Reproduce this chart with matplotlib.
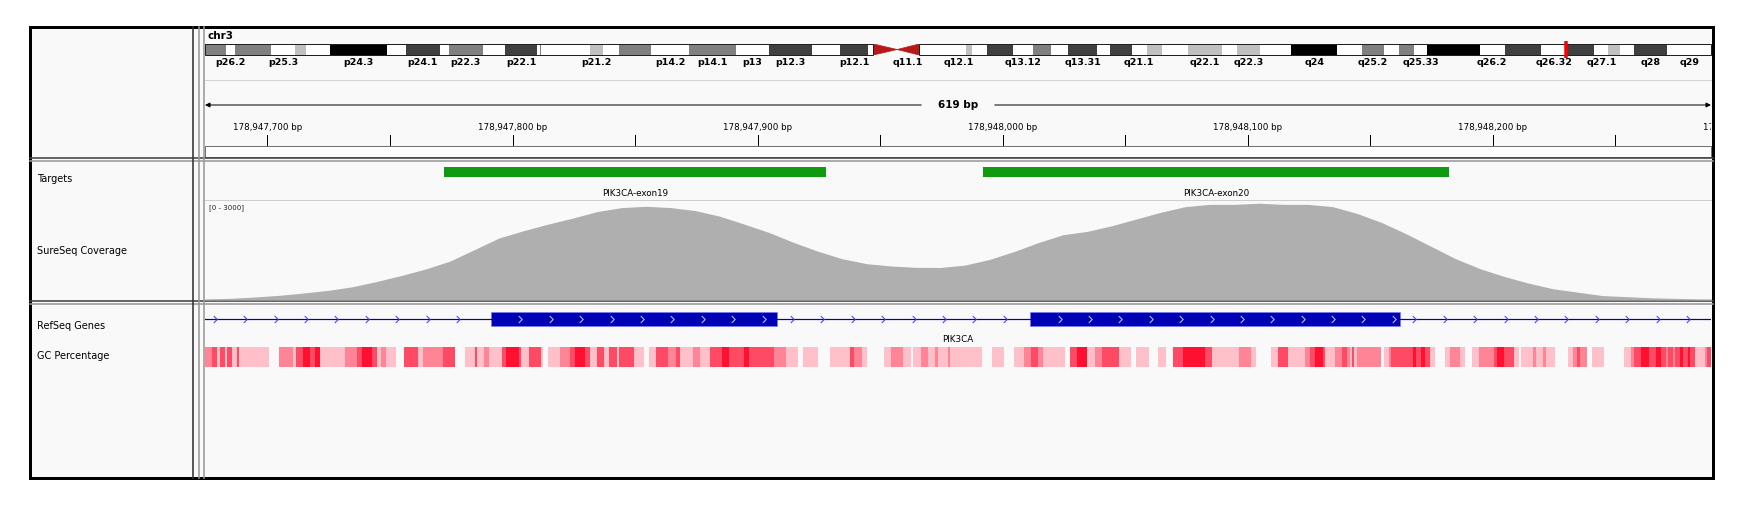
import numpy as np
import matplotlib
matplotlib.use("Agg")
import matplotlib.pyplot as plt
from matplotlib.patches import Rectangle, Polygon
from matplotlib.path import Path

W, H = 1747, 514

# chr3 cytobands (hg19), start in Mb
band_names = ["p26.3", "p26.2", "p26.1", "p25.3", "p25.2", "p25.1", "p24.3", "p24.2",
              "p24.1", "p23", "p22.3", "p22.2", "p22.1", "p21.33", "p21.32", "p21.31",
              "p21.2", "p21.1", "p14.3", "p14.2", "p14.1", "p13", "p12.3", "p12.2",
              "p12.1", "p11.2", "p11.1", "q11.1", "q11.2", "q12.1", "q12.2", "q12.3",
              "q13.11", "q13.12", "q13.13", "q13.2", "q13.31", "q13.32", "q13.33", "q21.1",
              "q21.2", "q21.3", "q22.1", "q22.2", "q22.3", "q23", "q24", "q25.1",
              "q25.2", "q25.31", "q25.32", "q25.33", "q26.1", "q26.2", "q26.31", "q26.32",
              "q26.33", "q27.1", "q27.2", "q27.3", "q28", "q29"]
band_starts = [0.0, 2.8, 4.0, 8.7, 11.8, 13.3, 16.4, 23.9,
               26.4, 30.9, 32.1, 36.5, 39.4, 43.7, 44.1, 44.2,
               50.6, 52.3, 54.4, 58.6, 63.7, 69.8, 74.2, 79.8,
               83.5, 87.2, 87.9, 91.0, 93.9, 98.3, 100.0, 100.9,
               102.8, 106.2, 108.9, 111.3, 113.5, 117.3, 119.0, 121.9,
               123.8, 125.8, 129.2, 133.7, 135.7, 138.7, 142.8, 148.9,
               152.1, 155.0, 157.0, 159.0, 160.7, 167.6, 170.9, 175.7,
               179.0, 182.7, 184.5, 186.0, 187.9, 192.3]
band_stains = ["gpos50", "gneg", "gpos50", "gneg", "gpos25", "gneg", "gpos100", "gneg",
               "gpos75", "gneg", "gpos50", "gneg", "gpos75", "gneg", "gpos50", "gneg",
               "gpos25", "gneg", "gpos50", "gneg", "gpos50", "gneg", "gpos75", "gneg",
               "gpos75", "gneg", "acen", "acen", "gvar", "gneg", "gpos25", "gneg",
               "gpos75", "gneg", "gpos50", "gneg", "gpos75", "gneg", "gpos75", "gneg",
               "gpos25", "gneg", "gpos25", "gneg", "gpos25", "gneg", "gpos100", "gneg",
               "gpos50", "gneg", "gpos50", "gneg", "gpos100", "gneg", "gpos75", "gneg",
               "gpos75", "gneg", "gpos25", "gneg", "gpos75", "gneg"]
chr_len = 198.022430
shown_labels = ["p26.2", "p25.3", "p24.3", "p24.1", "p22.3", "p22.1", "p21.2", "p14.2",
                "p14.1", "p13", "p12.3", "p12.1", "q11.1", "q12.1", "q13.12", "q13.31",
                "q21.1", "q22.1", "q22.3", "q24", "q25.2", "q25.33", "q26.2", "q26.32",
                "q27.1", "q28", "q29"]

view_start = 178947674.5
view_end = 178948289.0
span_label = "619 bp"

# SureSeq targets
target_starts = [178947772, 178947992]
target_ends = [178947928, 178948182]
target_names = ["PIK3CA-exon19", "PIK3CA-exon20"]

# coverage, every 10 bp from view start
cov_step = 10
coverage = [34, 50, 90, 140, 210, 290, 400, 560, 740, 940,
            1180, 1530, 1880, 2100, 2300, 2480, 2680, 2800, 2840, 2800,
            2710, 2540, 2300, 2050, 1750, 1480, 1250, 1100, 1030, 990,
            985, 1057, 1227, 1466, 1739, 1977, 2080, 2250, 2455, 2659,
            2830, 2898, 2898, 2932, 2898, 2898, 2830, 2625, 2352, 2011,
            1636, 1261, 955, 716, 511, 341, 239, 136, 102, 68,
            50, 34, 30]
cov_max = 3000

# RefSeq PIK3CA exons in view
exon_starts = [178947791, 178948011]
exon_ends = [178947908, 178948162]
gene_name = "PIK3CA"

# GC percentage: run start (bp from view start) and level 0..4
gc_offsets = [0, 3, 5, 6, 8, 9, 11, 13, 14, 26, 30, 36, 37, 40, 43, 45, 47, 57, 62, 64,
              68, 70, 72, 74, 78, 81, 87, 89, 97, 102, 106, 110, 111, 114, 116, 121, 123, 128,
              129, 132, 137, 138, 140, 145, 149, 151, 155, 157, 160, 163, 165, 168, 169, 175,
              179, 181, 184, 189, 192, 194, 199, 202, 206, 211, 214, 220, 222, 232, 237, 242,
              244, 250, 255, 263, 265, 268, 270, 277, 280, 285, 288, 289, 292, 295, 298, 299,
              303, 304, 317, 321, 326, 330, 334, 337, 340, 342, 351, 353, 356, 360, 363, 366,
              373, 378, 380, 385, 389, 392, 395, 399, 408, 411, 422, 427, 429, 435, 438, 442,
              449, 451, 453, 456, 457, 461, 464, 466, 467, 468, 469, 470, 480, 481, 483, 484,
              493, 494, 496, 498, 500, 502, 506, 508, 512, 514, 517, 520, 526, 527, 530, 534,
              536, 537, 542, 543, 546, 547, 551, 556, 558, 560, 561, 564, 566, 571, 579, 582,
              583, 586, 589, 592, 594, 596, 597, 599, 600, 602, 603, 605, 606, 608, 612, 613]
gc_levels = [2, 3, 1, 3, 1, 3, 1, 3, 1, 0, 2, 1, 3, 4, 3, 4, 1, 2, 3, 4,
             3, 1, 2, 1, 0, 3, 1, 2, 3, 0, 1, 3, 1, 2, 1, 3, 4, 3,
             1, 3, 1, 0, 1, 2, 3, 4, 3, 1, 3, 1, 3, 1, 3, 1,
             0, 1, 3, 2, 3, 1, 2, 1, 3, 4, 3, 4, 3, 2, 1, 0,
             1, 0, 1, 3, 2, 1, 0, 1, 2, 1, 0, 1, 2, 1, 2, 1,
             2, 1, 0, 1, 0, 1, 2, 3, 2, 1, 0, 3, 4, 1, 2, 3,
             1, 0, 1, 0, 1, 0, 3, 4, 3, 1, 2, 1, 0, 1, 3, 1,
             2, 3, 4, 3, 1, 2, 3, 2, 1, 3, 1, 2, 0, 1, 2, 3,
             4, 3, 4, 3, 1, 0, 1, 2, 1, 0, 1, 2, 3, 4, 3, 1,
             0, 1, 2, 1, 2, 1, 0, 1, 2, 3, 2, 0, 1, 0, 1, 2,
             3, 4, 3, 4, 3, 2, 3, 2, 3, 4, 3, 4, 3, 1, 2, 3]
gc_colors = ["#ffffff", "#ffc0ca", "#ff8596", "#ff4a66", "#ff1030"]

stain_colors = {"gneg": "#ffffff", "gvar": "#ffffff", "gpos25": "#c0c0c0",
                "gpos50": "#808080", "gpos75": "#404040", "gpos100": "#000000"}

track_names = ["Targets", "SureSeq Coverage", "RefSeq Genes", "GC Percentage"]
track_name_y = [179, 251, 326, 356]

PX = 0.72  # points per pixel at dpi 100


def add_ax(fig, x0, y0, x1, y1):
    ax = fig.add_axes([x0 / W, 1 - y1 / H, (x1 - x0) / W, (y1 - y0) / H])
    ax.set_axis_off()
    ax.patch.set_alpha(0)
    return ax


def main():
    fig = plt.figure(figsize=(W / 100, H / 100), dpi=100, facecolor="white")

    # frame and panel layout in pixel units
    bg = fig.add_axes([0, 0, 1, 1])
    bg.set_xlim(0, W)
    bg.set_ylim(H, 0)
    bg.set_axis_off()
    bg.add_patch(Rectangle((30, 27), 1683, 451, facecolor="#f9f9f9", edgecolor="none"))
    bg.add_patch(Rectangle((205, 146), 1506, 11, facecolor="#fdfdfd", edgecolor="#707070", lw=PX))
    bg.plot([205, 1711], [80, 80], color="#d4d4d4", lw=PX)
    bg.plot([205, 1711], [200, 200], color="#cfcfcf", lw=PX)
    for y, c in [(157.5, "#444444"), (160.5, "#9a9a9a"), (300.5, "#444444"), (303.5, "#9a9a9a")]:
        bg.plot([30, 1713], [y, y], color=c, lw=1.6 * PX)
    for x, c in [(193, "#333333"), (199, "#9a9a9a"), (204.5, "#9a9a9a")]:
        bg.plot([x, x], [27, 478], color=c, lw=1.6 * PX)
    bg.add_patch(Rectangle((30, 27), 1683, 451, fill=False, edgecolor="black", lw=3 * PX))

    bg.text(208, 36, "chr3", fontsize=7.5, fontweight="bold", va="center", ha="left")
    for name, y in zip(track_names, track_name_y):
        bg.text(37, y, name, fontsize=7, va="center", ha="left")
    bg.text(209, 208, "[0 - %d]" % cov_max, fontsize=5, va="center", ha="left", color="#222222")

    # ideogram
    ideo = add_ax(fig, 205, 44, 1711, 55)
    ideo.set_xlim(0, chr_len)
    ideo.set_ylim(0, 1)
    band_ends = band_starts[1:] + [chr_len]
    for name, s, e, st in zip(band_names, band_starts, band_ends, band_stains):
        if st == "acen":
            if name.startswith("p"):
                pts = [(s, 0), (s, 1), (e, 0.5)]
            else:
                pts = [(e, 0), (e, 1), (s, 0.5)]
            ideo.add_patch(Polygon(pts, closed=True, facecolor="#b81818", edgecolor="#b81818", lw=0.5))
        else:
            ideo.add_patch(Rectangle((s, 0), e - s, 1, facecolor=stain_colors[st], edgecolor="none"))
        if name in shown_labels:
            ideo.text((s + e) / 2, -0.68, name, fontsize=6.8, fontweight="bold",
                      ha="center", va="center", clip_on=False)
    p_end = band_starts[band_names.index("p11.1")]
    q_start = band_starts[band_names.index("q11.2")]
    ideo.add_patch(Rectangle((0, 0), p_end, 1, fill=False, edgecolor="#202020", lw=PX, clip_on=False))
    ideo.add_patch(Rectangle((q_start, 0), chr_len - q_start, 1, fill=False, edgecolor="#202020",
                             lw=PX, clip_on=False))
    view_mid_mb = (view_start + view_end) / 2 / 1e6
    ideo.plot([view_mid_mb, view_mid_mb], [-0.25, 1.25], color="#ff0000", lw=3.5 * PX,
              solid_capstyle="butt", clip_on=False)

    # ruler
    ruler = add_ax(fig, 205, 80, 1711, 146)
    ruler.set_xlim(view_start, view_end)
    ruler.set_ylim(146, 80)
    mid = (view_start + view_end) / 2
    gap = 15
    for tip, tail in [(view_start, mid - gap), (view_end, mid + gap)]:
        ruler.annotate("", xy=(tip, 105), xytext=(tail, 105),
                       arrowprops=dict(arrowstyle="-|>", color="black", lw=PX,
                                       mutation_scale=7, shrinkA=0, shrinkB=0))
    ruler.text(mid, 105, span_label, fontsize=7.5, fontweight="bold", ha="center", va="center")
    first = int(np.ceil(view_start / 50.0) * 50)
    for pos in range(first, int(view_end) + 100, 50):
        if pos <= view_end:
            ruler.plot([pos, pos], [135, 145], color="black", lw=PX)
        if pos % 100 == 0:
            ruler.text(pos, 127.5, "{:,} bp".format(pos), fontsize=6.3, ha="center",
                       va="center", clip_on=True)

    # targets
    tgt = add_ax(fig, 205, 161, 1711, 200)
    tgt.set_xlim(view_start, view_end)
    tgt.set_ylim(200, 161)
    tgt.broken_barh([(s, e - s) for s, e in zip(target_starts, target_ends)], (167, 10),
                    facecolor="#109a10")
    for s, e, name in zip(target_starts, target_ends, target_names):
        tgt.text((s + e) / 2, 193, name, fontsize=6.3, ha="center", va="center")

    # coverage
    cov = add_ax(fig, 205, 201, 1711, 300)
    cov.set_xlim(view_start, view_end)
    cov.set_ylim(0, cov_max)
    cov_x = view_start + cov_step * np.arange(len(coverage))
    cov.fill_between(cov_x, 0, coverage, color="#afafaf", lw=0)

    # RefSeq genes
    gene = add_ax(fig, 205, 305, 1711, 333)
    gene.set_xlim(view_start, view_end)
    gene.set_ylim(-1, 1)
    gene.plot([view_start, view_end], [0, 0], color="#0000b4", lw=1.2 * PX)
    chev = Path([(-0.5, 1), (0.5, 0), (-0.5, -1)], [Path.MOVETO, Path.LINETO, Path.LINETO])
    step = 12.4
    seg_starts = [view_start + 4] + [e + 6 for e in exon_ends]
    seg_ends = exon_starts + [view_end]
    for s, e in zip(seg_starts, seg_ends):
        xs = np.arange(s, e - 2, step)
        gene.plot(xs, np.zeros_like(xs), ls="none", marker=chev, markersize=5,
                  markerfacecolor="none", markeredgecolor="#3a3aff", markeredgewidth=PX)
    for s, e in zip(exon_starts, exon_ends):
        gene.add_patch(Rectangle((s, -0.5), e - s, 1, facecolor="#0000b4",
                                 edgecolor="#7a7aff", lw=0.6 * PX))
        xs = np.arange(s + 12.2, e - 1, step)
        gene.plot(xs, np.zeros_like(xs), ls="none", marker=chev, markersize=5,
                  markerfacecolor="none", markeredgecolor="#c8c8ff", markeredgewidth=PX)
    gene.text(mid, -1.5, gene_name, fontsize=6.3, ha="center", va="center", clip_on=False)

    # GC percentage
    gc = add_ax(fig, 205, 347, 1711, 367)
    gc.set_xlim(view_start, view_end)
    gc.set_ylim(0, 1)
    gc_bounds = gc_offsets + [view_end - view_start]
    for lev in range(1, 5):
        cells = [(view_start + gc_bounds[i], gc_bounds[i + 1] - gc_bounds[i])
                 for i in range(len(gc_levels)) if gc_levels[i] == lev]
        gc.broken_barh(cells, (0, 1), facecolor=gc_colors[lev], edgecolor="none")

    fig.savefig("out.png", dpi=100, facecolor="white")


if __name__ == "__main__":
    main()
